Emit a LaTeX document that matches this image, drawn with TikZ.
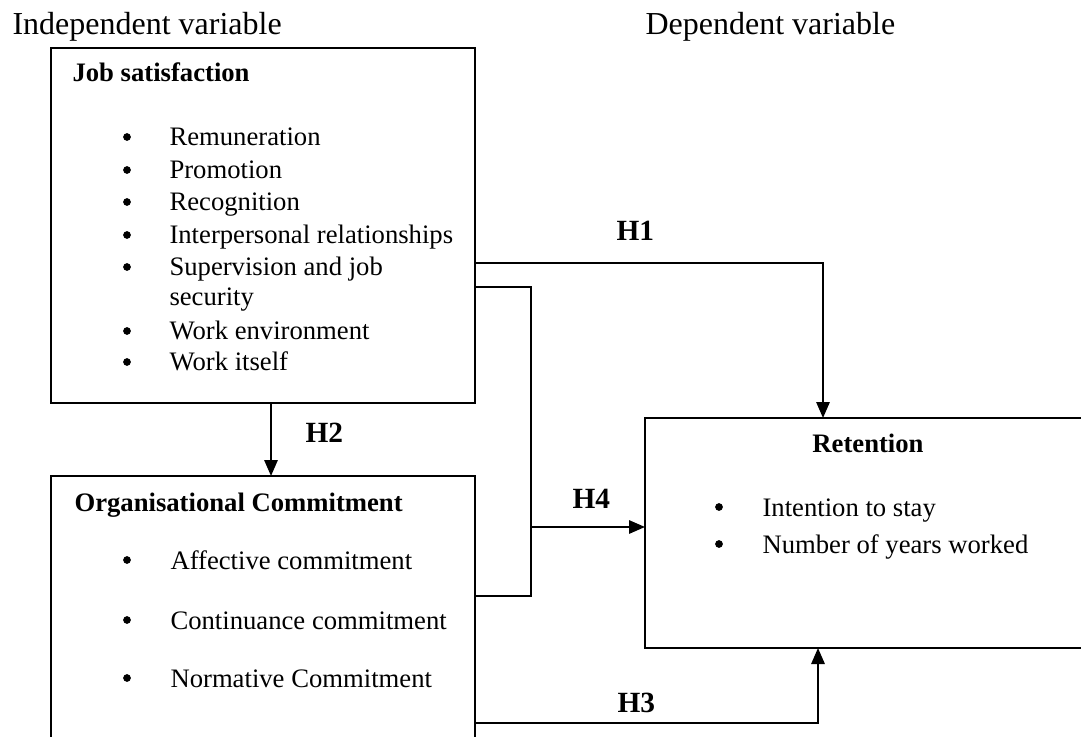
\documentclass[tikz,border=0pt]{standalone}
\usepackage{fontspec}
\setmainfont{Liberation Serif}
\usepackage{tikz}
\usetikzlibrary{arrows.meta}

\begin{document}
\begin{tikzpicture}[x=0.375pt, y=-0.375pt,
    varbox/.style={draw, line width=0.75pt, inner sep=0pt, outer sep=0pt, anchor=north west},
    link/.style={line width=0.75pt},
    arr/.style={line width=0.75pt, -{Triangle[length=6pt, width=5pt]}},
    head/.style={font=\fontsize{12}{14}\selectfont, anchor=base west, inner sep=0pt},
    boxtitle/.style={font=\fontsize{10}{12}\selectfont\bfseries, anchor=base west, inner sep=0pt},
    item/.style={font=\fontsize{10}{12}\selectfont, anchor=base west, inner sep=0pt},
    dot/.style={circle, fill, inner sep=0pt, minimum size=2.9pt},
    hyp/.style={font=\fontsize{11}{13}\selectfont\bfseries, anchor=base west, inner sep=0pt}]
    \useasboundingbox (0,0) rectangle (1081,737);
    \clip (0,0) rectangle (1081,737);

    % Column headings
    \node[head] (indep) at (12,35) {Independent variable};
    \node[head] (dep) at (645,35) {Dependent variable};

    % Job satisfaction
    \node[varbox, minimum width=159pt, minimum height=133.1pt] (js) at (51,48) {};
    \node[boxtitle] (jstitle) at (72,82) {Job satisfaction};
    \foreach \y/\t [count=\i] in {146/Remuneration, 179/Promotion, 211/Recognition,
        244/Interpersonal relationships, 276/Supervision and job, 340/Work environment, 371/Work itself} {
        \node[dot] (jsdot\i) at (127,\y-9) {};
        \node[item] (jsitem\i) at (169,\y) {\t};
    }
    \node[item] (jsitem5b) at (169,306) {security};

    % Organisational commitment (runs off the bottom)
    \node[varbox, minimum width=159pt, minimum height=150pt] (org) at (51,476) {};
    \node[boxtitle] (orgtitle) at (74,511) {Organisational Commitment};
    \foreach \y/\t [count=\i] in {569/Affective commitment, 629/Continuance commitment, 687/Normative Commitment} {
        \node[dot] (orgdot\i) at (127,\y-9) {};
        \node[item] (orgitem\i) at (170,\y) {\t};
    }

    % Retention (runs off the right side)
    \node[varbox, minimum width=187.5pt, minimum height=86.25pt] (ret) at (645,418) {};
    \node[boxtitle, anchor=base] (rettitle) at (868,452) {Retention};
    \node[dot] (retdot1) at (719,507) {};
    \node[item] (retitem1) at (762,516) {Intention to stay};
    \node[dot] (retdot2) at (719,544) {};
    \node[item] (retitem2) at (762,553) {Number of years worked};

    % Hypothesis paths
    \coordinate (h1turn) at (823,263);
    \draw[arr] (js.east |- h1turn) -| (ret.north -| h1turn);
    \node[hyp] (h1) at (616,241) {H1};

    \coordinate (h2x) at (271,440);
    \draw[arr] (js.south -| h2x) -- (org.north -| h2x);
    \node[hyp] (h2) at (305,443) {H2};

    \coordinate (h4top) at (531,287);
    \coordinate (h4mid) at (531,527);
    \coordinate (h4bot) at (531,596);
    \draw[link] (js.east |- h4top) -- (h4top) -- (h4bot) -- (org.east |- h4bot);
    \draw[arr] (h4mid) -- (ret.west |- h4mid);
    \node[hyp] (h4) at (572,508) {H4};

    \coordinate (h3turn) at (818,723);
    \draw[arr] (org.east |- h3turn) -| (ret.south -| h3turn);
    \node[hyp] (h3) at (617,712) {H3};

\end{tikzpicture}
\end{document}
